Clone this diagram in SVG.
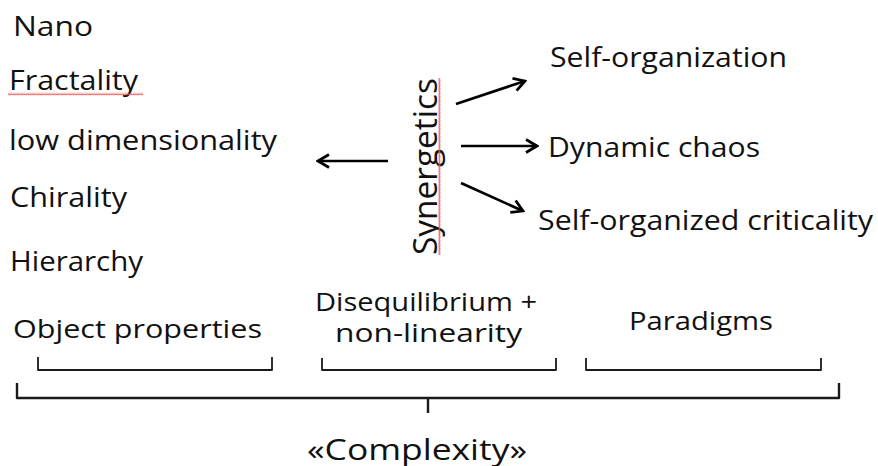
<svg xmlns="http://www.w3.org/2000/svg" width="878" height="466" viewBox="0 0 878 466">
<style>
.t{font-family:"Open Sans","Noto Sans","Liberation Sans",sans-serif;fill:#111}
.a{stroke:#000;stroke-width:2.7;fill:none}
.b{stroke:#1a1a1a;fill:none;stroke-linejoin:round}
</style>
<defs>
<marker id="ah" viewBox="0 0 16 16" refX="14" refY="8" markerWidth="16" markerHeight="16" markerUnits="userSpaceOnUse" orient="auto">
<path d="M3,1.5 L14,8 L3,14.5" fill="none" stroke="#000" stroke-width="2.7" stroke-linejoin="miter"/>
</marker>
<pattern id="sq" width="4" height="3" patternUnits="userSpaceOnUse">
<path d="M0,2.5 L1,0.5 L2,2.5 L3,0.5 L4,2.5" fill="none" stroke="#e85a5a" stroke-width="0.8"/>
</pattern>
</defs>
<rect width="878" height="466" fill="#fff"/>
<g id="nano"><text class="t" x="13" y="36" font-size="28" textLength="80" lengthAdjust="spacingAndGlyphs">Nano</text></g>
<g id="fractality"><text class="t" x="9" y="90" font-size="28" textLength="129" lengthAdjust="spacingAndGlyphs">Fractality</text>
<rect x="8" y="92.5" width="135" height="3" fill="url(#sq)"/></g>
<g id="lowdim"><text class="t" x="9" y="150" font-size="28" textLength="268" lengthAdjust="spacingAndGlyphs">low dimensionality</text></g>
<g id="chirality"><text class="t" x="10" y="207" font-size="28" textLength="117" lengthAdjust="spacingAndGlyphs">Chirality</text></g>
<g id="hierarchy"><text class="t" x="10" y="271" font-size="28" textLength="133" lengthAdjust="spacingAndGlyphs">Hierarchy</text></g>
<g id="synergetics">
<text class="t" transform="translate(437,255) rotate(-90)" x="0" y="0" font-size="33" textLength="177" lengthAdjust="spacingAndGlyphs">Synergetics</text>
<g transform="translate(438,255) rotate(-90)"><rect x="0" y="0" width="177" height="3" fill="url(#sq)"/></g>
</g>
<g id="selforg"><text class="t" x="550" y="67" font-size="27" textLength="237" lengthAdjust="spacingAndGlyphs">Self-organization</text></g>
<g id="chaos"><text class="t" x="548" y="157" font-size="27" textLength="212" lengthAdjust="spacingAndGlyphs">Dynamic chaos</text></g>
<g id="soc"><text class="t" x="538" y="230" font-size="27" textLength="335" lengthAdjust="spacingAndGlyphs">Self-organized criticality</text></g>
<g id="objprops"><text class="t" x="13" y="338" font-size="26" textLength="249" lengthAdjust="spacingAndGlyphs">Object properties</text></g>
<g id="diseq"><text class="t" x="315" y="311" font-size="26" textLength="222" lengthAdjust="spacingAndGlyphs">Disequilibrium +</text>
<text class="t" x="335" y="342" font-size="26" textLength="187" lengthAdjust="spacingAndGlyphs">non-linearity</text></g>
<g id="paradigms"><text class="t" x="629" y="330" font-size="26" textLength="144" lengthAdjust="spacingAndGlyphs">Paradigms</text></g>
<g id="complexity"><text class="t" x="307" y="460" font-size="29" textLength="220" lengthAdjust="spacingAndGlyphs">«Complexity»</text></g>
<g id="brackets">
<path class="b" stroke-width="1.8" d="M38,357 V370 H272 V357"/>
<path class="b" stroke-width="1.8" d="M322,358 V370 H556 V358"/>
<path class="b" stroke-width="1.8" d="M586,358 V370 H821 V358"/>
<path class="b" stroke-width="2.4" d="M17,383 V398 H839 V383"/>
<path class="b" stroke-width="2.4" d="M428,398 V413"/>
</g>
<g id="connectors">
<line class="a" x1="388" y1="161" x2="318" y2="161" marker-end="url(#ah)"/>
<line class="a" x1="456" y1="104" x2="525" y2="81" marker-end="url(#ah)"/>
<line class="a" x1="461" y1="146" x2="537" y2="146" marker-end="url(#ah)"/>
<line class="a" x1="461" y1="183" x2="523" y2="211" marker-end="url(#ah)"/>
</g>
</svg>
